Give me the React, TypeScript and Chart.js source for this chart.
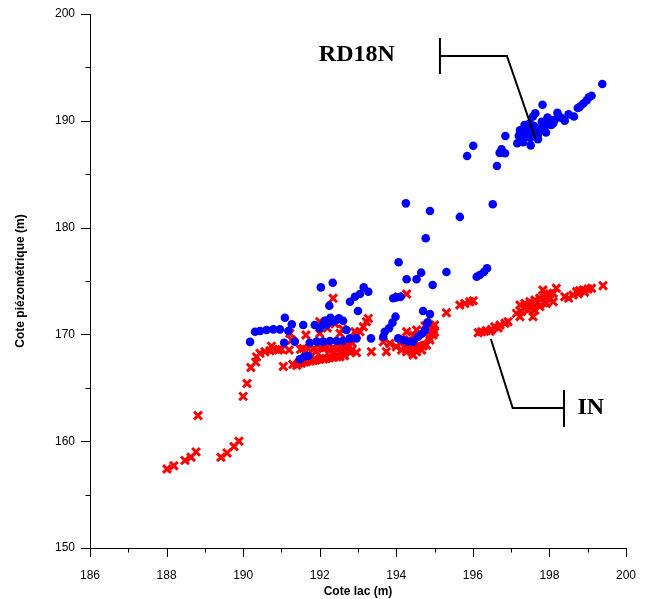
import React, { useEffect, useRef } from "react";
import { Chart, registerables } from "chart.js";

Chart.register(...registerables);

// Series RD18N (blue circles): lake level (x) and piezometric level (y)
const rd18nX = [
  190.18, 190.31, 190.44, 190.61, 190.79, 190.96, 191.09, 191.27, 191.18, 191.07,
  191.35, 191.57, 191.87, 192.0, 192.18, 192.28, 192.44, 192.61, 192.7, 192.79,
  191.74, 191.92, 192.09, 192.27, 192.44, 192.61, 191.48, 191.59, 191.7, 192.03,
  192.34, 192.25, 192.79, 192.92, 193.05, 193.15, 193.27, 193.0,
  192.1, 192.35, 192.5, 192.15,
  192.96, 193.34, 193.66, 193.7, 193.81, 193.9, 193.98, 193.92, 194.0, 194.11,
  194.06, 194.27, 194.53, 194.65, 194.95, 195.31, 194.25, 194.88, 194.77, 195.66,
  196.52, 194.05, 194.18, 194.31, 194.44, 194.57, 194.66, 194.75, 194.81, 194.7,
  194.88, 194.82, 196.1, 196.18, 196.29, 196.37,
  195.85, 196.01, 196.63, 196.7, 196.75, 196.84, 196.85, 197.16, 197.27, 197.31,
  197.36, 197.44, 197.51, 197.7, 197.23, 197.31, 197.4, 197.49, 197.57, 197.63,
  197.75, 197.82, 197.91, 197.92, 198.01, 198.1, 198.14, 198.21, 198.4, 198.64,
  198.74, 198.79, 198.88, 198.97, 199.03, 199.1, 199.38, 197.6, 197.8, 197.55,
  197.95, 197.35, 197.3, 197.45, 197.65, 197.85, 198.05, 197.7, 197.5, 197.2,
  198.3, 198.5,
];
const rd18nY = [
  169.3, 170.25, 170.32, 170.41, 170.47, 170.47, 171.56, 170.94, 170.32, 169.22,
  169.32, 170.88, 170.88, 170.57, 170.88, 171.56, 171.35, 171.28, 170.41, 169.63,
  169.22, 169.32, 169.32, 169.38, 169.38, 169.41, 167.67, 167.91, 167.98, 174.4,
  174.84, 172.69, 173.06, 173.53, 173.78, 174.4, 174.0, 172.19,
  171.0, 171.2, 171.5, 171.3,
  169.63, 169.63, 169.78, 170.25, 170.57, 171.1, 171.66, 173.38, 173.47, 173.53,
  176.75, 175.16, 175.16, 175.78, 174.63, 175.84, 182.27, 181.55, 179.0, 181.0,
  182.18, 169.63, 169.48, 169.32, 169.32, 169.78, 170.04, 170.4, 171.04, 172.19,
  171.9, 171.13, 175.4, 175.56, 175.84, 176.19,
  186.7, 187.67, 185.77, 187.0, 187.33, 186.96, 188.58, 187.9, 188.36, 188.0,
  188.5, 188.83, 187.7, 188.27, 189.1, 189.2, 189.45, 189.77, 190.4, 190.7,
  189.2, 191.5, 188.9, 189.6, 190.1, 189.77, 190.1, 190.76, 190.0, 190.4,
  191.2, 191.3, 191.6, 191.9, 192.2, 192.35, 193.45, 189.5, 189.9, 188.9,
  190.3, 189.6, 188.9, 189.1, 189.3, 189.4, 189.6, 188.7, 188.4, 188.6,
  190.3, 190.6,
];

// Series IN (red crosses)
const inX = [
  188.01, 188.19, 188.48, 188.64, 188.77, 188.82, 189.42, 189.58, 189.76, 189.89,
  190.0, 190.1, 190.2, 190.33, 190.35, 190.44, 190.57, 190.7, 190.79, 190.92,
  191.0, 190.74, 191.05, 191.2, 191.27, 191.22, 191.64, 191.57, 191.4, 191.52,
  191.66, 191.83, 192.0, 192.17, 192.35, 192.53, 192.61, 192.74, 192.35, 192.0,
  192.0, 192.53, 191.9, 192.09, 192.27, 192.44, 192.61, 192.79, 192.92, 192.96,
  192.83,
  191.3, 191.45, 191.6, 191.75, 191.9, 192.1, 192.25, 192.45, 192.65, 192.8,
  191.5, 191.7, 191.85, 192.0, 192.15, 192.35, 192.55, 192.7, 192.85,
  192.2, 192.4, 192.6,
  193.27, 193.22, 193.14, 193.05, 192.96, 193.35, 193.74, 193.83, 193.66, 194.27,
  194.05, 195.31, 194.27, 194.53, 194.88, 194.96, 195.0, 194.75, 194.0, 194.14,
  194.27, 194.4, 194.53, 194.66, 194.79, 194.88, 194.96, 194.44, 194.2, 194.45,
  194.6, 194.1, 194.35, 194.5, 194.7, 194.85, 195.0, 194.8, 194.25,
  195.66, 195.79, 195.92, 196.01, 196.14, 196.23, 196.35, 196.49, 196.57, 196.71,
  196.84, 196.92, 196.45, 196.66, 197.14, 197.23, 197.36, 197.49, 197.62, 197.75,
  197.83, 197.92, 198.01, 198.1, 197.83, 198.18, 197.27, 197.44, 197.62, 197.75,
  197.92, 198.1, 197.23, 197.57, 197.4, 197.55, 197.7, 197.35, 197.5, 197.85,
  198.0, 198.4, 198.5, 198.62, 198.71, 198.79, 198.88, 199.01, 199.1, 199.4,
  198.75, 198.92,
];
const inY = [
  157.4, 157.7, 158.2, 158.5, 159.0, 162.4, 158.5, 158.9, 159.5, 160.0,
  164.2, 165.4, 166.9, 167.4, 167.9, 168.23, 168.38, 168.47, 168.6, 168.54,
  168.6, 168.9, 167.0, 168.54, 169.48, 170.1, 169.94, 168.69, 167.1, 167.3,
  167.45, 167.55, 167.67, 167.75, 167.85, 167.91, 168.2, 168.54, 173.38, 171.19,
  170.1, 170.1, 168.4, 168.69, 168.54, 168.6, 168.69, 169.48, 170.25, 168.3,
  168.5,
  167.2, 167.3, 167.4, 167.5, 167.6, 167.7, 167.8, 167.9, 168.0, 168.3,
  168.6, 168.65, 168.7, 168.8, 168.75, 168.7, 168.8, 169.0, 169.2,
  170.6, 171.0, 170.5,
  171.5, 171.19, 170.72, 170.25, 169.94, 168.38, 168.38, 169.15, 169.3, 173.78,
  173.53, 172.03, 170.25, 170.41, 170.88, 170.41, 170.88, 170.8, 168.85, 168.54,
  168.38, 168.38, 168.38, 168.54, 169.0, 169.48, 169.94, 168.07, 169.5, 169.9,
  169.0, 169.2, 168.7, 168.8, 168.9, 169.7, 170.2, 170.3, 168.9,
  172.75, 172.9, 173.06, 173.15, 170.16, 170.25, 170.35, 170.47, 170.72, 170.88,
  171.04, 171.19, 170.3, 170.6, 171.97, 172.75, 172.9, 173.06, 173.22, 173.38,
  173.53, 173.69, 173.78, 173.85, 174.16, 174.32, 172.13, 172.28, 172.28, 172.6,
  172.9, 173.06, 171.65, 171.65, 172.6, 172.9, 173.0, 172.45, 172.5, 172.95,
  173.3, 173.53, 173.4, 173.69, 174.0, 174.1, 174.16, 174.25, 174.32, 174.56,
  173.8, 173.95,
];

// Axis ranges and tick labels
const xRange = [186, 200];
const yRange = [150, 200];
const xTickLabels = ["186", "188", "190", "192", "194", "196", "198", "200"];
const yTickLabels = ["150", "160", "170", "180", "190", "200"];

// Callout labels (data coordinates)
const calloutNames = ["RD18N", "IN"];
const calloutText = [
  [192.97, 196.16],
  [199.08, 163.11],
];
const calloutBar = [
  [195.14, 197.75, 194.38],
  [198.38, 164.79, 161.33],
];
const calloutPath = [
  [
    [195.14, 196.07],
    [196.89, 196.07],
    [197.64, 188.3],
  ],
  [
    [198.38, 163.11],
    [197.04, 163.11],
    [196.47, 169.57],
  ],
];

const toPts = (xs: number[], ys: number[]) => xs.map((x, i) => ({ x, y: ys[i] }));

const customTicks = {
  id: "customTicks",
  afterDraw(chart: any) {
    const { ctx, scales } = chart;
    const x = scales.x;
    const y = scales.y;
    ctx.save();
    ctx.strokeStyle = "#000";
    ctx.lineWidth = 1;
    ctx.beginPath();
    x.ticks.forEach((t: any) => {
      const px = Math.round(x.getPixelForValue(t.value)) + 0.5;
      const len = t.value % 2 === 0 ? 9 : 4.5;
      ctx.moveTo(px, x.top);
      ctx.lineTo(px, x.top + len);
    });
    y.ticks.forEach((t: any) => {
      const py = Math.round(y.getPixelForValue(t.value)) + 0.5;
      const len = t.value % 10 === 0 ? 9 : 4.5;
      ctx.moveTo(y.right - len, py);
      ctx.lineTo(y.right, py);
    });
    ctx.stroke();
    ctx.restore();
  },
};

const callouts = {
  id: "callouts",
  afterDraw(chart: any) {
    const { ctx, scales } = chart;
    const x = scales.x;
    const y = scales.y;
    ctx.save();
    ctx.strokeStyle = "#000";
    ctx.lineWidth = 2;
    calloutNames.forEach((name, i) => {
      const [bx, by1, by2] = calloutBar[i];
      ctx.beginPath();
      ctx.moveTo(x.getPixelForValue(bx), y.getPixelForValue(by1));
      ctx.lineTo(x.getPixelForValue(bx), y.getPixelForValue(by2));
      const path = calloutPath[i];
      path.forEach(([px, py], j) => {
        const X = x.getPixelForValue(px);
        const Y = y.getPixelForValue(py);
        if (j === 0) ctx.moveTo(X, Y);
        else ctx.lineTo(X, Y);
      });
      ctx.stroke();
      ctx.fillStyle = "#000";
      ctx.font = "bold 24px 'Liberation Serif', 'DejaVu Serif', serif";
      ctx.textAlign = "center";
      ctx.textBaseline = "middle";
      ctx.fillText(name, x.getPixelForValue(calloutText[i][0]), y.getPixelForValue(calloutText[i][1]));
    });
    ctx.restore();
  },
};

export default function App() {
  const canvasRef = useRef<HTMLCanvasElement | null>(null);

  useEffect(() => {
    if (!canvasRef.current) return;
    const font = "'Liberation Sans', Arial, sans-serif";
    const chart = new Chart(canvasRef.current, {
      type: "scatter",
      data: {
        datasets: [
          {
            label: "RD18N",
            data: toPts(rd18nX, rd18nY),
            pointStyle: "circle",
            pointRadius: 4.3,
            pointBorderWidth: 0,
            backgroundColor: "#0000ff",
            borderColor: "#0000ff",
            order: 0,
          },
          {
            label: "IN",
            data: toPts(inX, inY),
            pointStyle: "crossRot",
            pointRadius: 5.5,
            pointBorderWidth: 3,
            backgroundColor: "#ff0000",
            borderColor: "#ff0000",
            order: 1,
          },
        ],
      },
      options: {
        animation: false,
        responsive: false,
        maintainAspectRatio: false,
        devicePixelRatio: 1,
        layout: { padding: { left: 0, top: 14, right: 22, bottom: 0 } },
        plugins: {
          legend: { display: false },
          tooltip: { enabled: false },
        },
        scales: {
          x: {
            type: "linear",
            min: xRange[0],
            max: xRange[1],
            afterFit: (s: any) => {
              s.height = 51;
            },
            ticks: {
              stepSize: 1,
              autoSkip: false,
              maxRotation: 0,
              padding: 11,
              color: "#000",
              font: { family: font, size: 12 },
              callback: (v: any) => {
                const s = String(v);
                return xTickLabels.includes(s) ? s : "";
              },
            },
            grid: { display: false, drawTicks: true, tickLength: 9 },
            border: { display: true, color: "#000", width: 1 },
            title: {
              display: true,
              text: "Cote lac (m)",
              color: "#000",
              font: { family: font, size: 12, weight: "bold" },
              padding: { top: 0, bottom: 0 },
            },
          },
          y: {
            type: "linear",
            min: yRange[0],
            max: yRange[1],
            afterFit: (s: any) => {
              s.width = 90;
            },
            ticks: {
              stepSize: 5,
              autoSkip: false,
              padding: 6,
              color: "#000",
              font: { family: font, size: 12 },
              callback: (v: any) => {
                const s = String(v);
                return yTickLabels.includes(s) ? s : "";
              },
            },
            grid: { display: false, drawTicks: true, tickLength: 9 },
            border: { display: true, color: "#000", width: 1 },
            title: {
              display: true,
              text: "Cote piézométrique (m)",
              color: "#000",
              font: { family: font, size: 12, weight: "bold" },
              padding: { top: 13, bottom: 0 },
            },
          },
        },
      },
      plugins: [customTicks, callouts],
    });
    return () => chart.destroy();
  }, []);

  return (
    <div style={{ position: "absolute", left: 0, top: 0, width: 648, height: 599, background: "#fff" }}>
      <canvas ref={canvasRef} width={648} height={599} style={{ width: 648, height: 599, display: "block" }} />
    </div>
  );
}
